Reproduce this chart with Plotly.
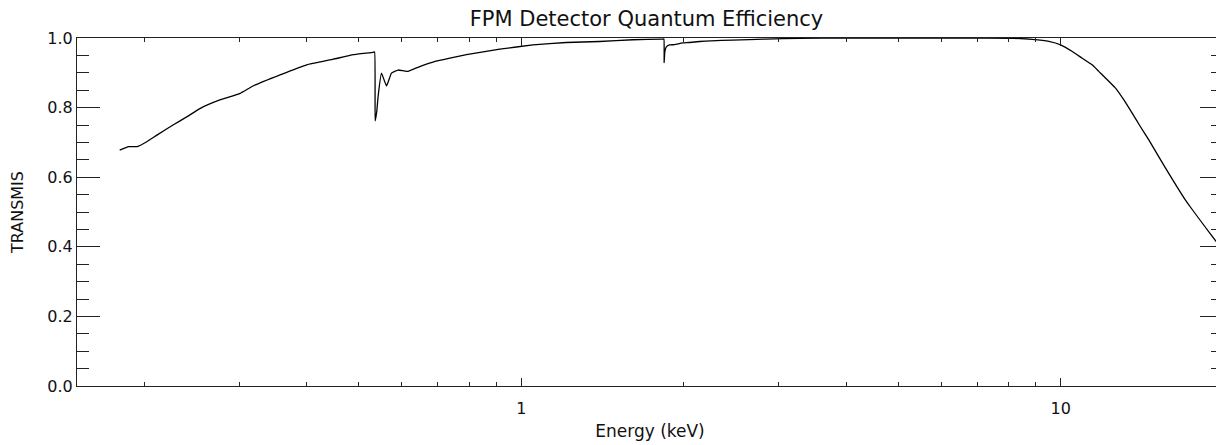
import math
import plotly.graph_objects as go

# Data (energy in keV, detector quantum efficiency)
energy_kev = [0.180, 0.187, 0.194, 0.202, 0.211, 0.226, 0.240, 0.254, 0.276, 0.301,
              0.318, 0.357, 0.400, 0.448, 0.488, 0.531, 0.5345, 0.5357, 0.5395, 0.5425,
              0.5504, 0.5623, 0.5743, 0.5907, 0.6036, 0.6163, 0.648, 0.686, 0.737, 0.791,
              0.912, 1.051, 1.211, 1.396, 1.609, 1.829, 1.838, 1.840, 1.845, 1.856,
              1.882, 1.923, 1.992, 2.05, 2.14, 2.248, 2.462, 2.842, 3.277, 4.0,
              5.0, 6.5, 8.19, 8.86, 9.51, 10.0, 10.51, 10.96, 11.44, 11.77,
              12.64, 13.10, 13.57, 14.06, 14.57, 15.65, 17.04, 19.23, 19.6]
transmission = [0.678, 0.688, 0.688, 0.702, 0.721, 0.750, 0.774, 0.798, 0.822, 0.841,
                0.862, 0.894, 0.923, 0.939, 0.952, 0.959, 0.960, 0.762, 0.790, 0.832,
                0.899, 0.862, 0.899, 0.908, 0.906, 0.904, 0.918, 0.931, 0.942, 0.952,
                0.968, 0.980, 0.987, 0.990, 0.995, 0.997, 0.997, 0.929, 0.960, 0.974,
                0.980, 0.981, 0.986, 0.987, 0.990, 0.992, 0.994, 0.997, 0.999, 1.0,
                1.0, 1.0, 0.999, 0.996, 0.990, 0.980, 0.961, 0.942, 0.923, 0.904,
                0.856, 0.822, 0.784, 0.745, 0.707, 0.626, 0.534, 0.424, 0.408]

x_range = [0.15, 20.0]
y_range = [0.0, 1.0]
x_major_ticks = [1, 10]
x_major_labels = ["1", "10"]
x_minor_ticks = [0.2, 0.3, 0.4, 0.5, 0.6, 0.7, 0.8, 0.9, 2, 3, 4, 5, 6, 7, 8, 9]

title_text = "FPM Detector Quantum Efficiency"
x_title = "Energy (keV)"
y_title = "TRANSMIS"

FONT = "DejaVu Sans"
INK = "#111111"
AX = "#222222"

# The plot frame of the original extends a few pixels past the right edge of
# the 1216 px window; the page clips it there.
W, H = 1223, 445

fig = go.Figure()
fig.add_trace(go.Scatter(x=energy_kev, y=transmission, mode="lines",
                         line=dict(color="black", width=1.3, shape="spline",
                                   smoothing=0.3),
                         showlegend=False, hoverinfo="skip"))

fig.update_layout(
    width=W, height=H,
    margin=dict(l=77, r=0, t=38, b=59),
    paper_bgcolor="white", plot_bgcolor="white",
    font=dict(family=FONT, size=16, color=INK),
    title=dict(text=title_text, x=646.5 / W, xanchor="center", xref="container",
               y=1 - 18.7 / H, yref="container", yanchor="middle",
               font=dict(family=FONT, size=21, color=INK)),
    xaxis=dict(type="log", range=[math.log10(x_range[0]), math.log10(x_range[1])],
               showgrid=False, zeroline=False,
               showline=True, linecolor=AX, linewidth=1, mirror="ticks",
               ticks="inside", ticklen=8, tickwidth=1, tickcolor=AX,
               tickmode="array", tickvals=x_major_ticks, ticktext=x_major_labels,
               ticklabelstandoff=8,
               minor=dict(tickmode="array", tickvals=x_minor_ticks, ticks="inside",
                          ticklen=4, tickwidth=1, tickcolor=AX, showgrid=False),
               title=dict(text=x_title, font=dict(family=FONT, size=17, color=INK),
                          standoff=7)),
    yaxis=dict(range=y_range, showgrid=False, zeroline=False,
               showline=True, linecolor=AX, linewidth=1, mirror="ticks",
               ticks="inside", ticklen=23, tickwidth=1, tickcolor=AX,
               dtick=0.2, tick0=0, tickformat=".1f", ticklabelstandoff=0,
               minor=dict(dtick=0.05, ticks="inside", ticklen=12, tickwidth=1,
                          tickcolor=AX, showgrid=False),
               title=dict(text=y_title, font=dict(family=FONT, size=16, color=INK),
                          standoff=19)),
)

fig.write_html(
    "out.html",
    config={"displayModeBar": False},
    post_script=("document.documentElement.style.overflow='hidden';"
                 "document.body.style.margin='0';"
                 "document.body.style.overflow='hidden';"),
)
